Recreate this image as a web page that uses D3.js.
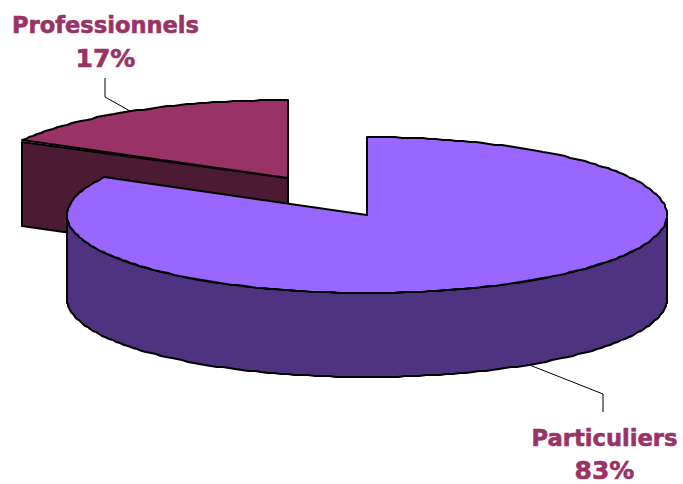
<!DOCTYPE html>
<html><head><meta charset="utf-8">
<script src="https://cdnjs.cloudflare.com/ajax/libs/d3/7.8.5/d3.min.js"></script>
<style>html,body{margin:0;padding:0;background:#fff}svg{display:block}</style>
</head><body><svg id="c" width="683" height="484"></svg>
<script>
const categories = ["Particuliers", "Professionnels"];
const shares = [83, 17];
const shareLabels = ["83%", "17%"];
const topColors = ["#9966FF", "#993366"];
const sideColors = ["#4D3380", "#4D1A33"];

const svg = d3.select("#c");
const rx = 300, ry = 78, depth = 84;
const centers = [[367, 215], [288, 178]];
const rxs = [rx, rx + 3];

const arcs = d3.pie().sort(null).startAngle(0).endAngle(2 * Math.PI).value(d => d)(shares);

function pt(i, a, dz) {
  const [cx, cy] = centers[i];
  return [Math.round(cx + rxs[i] * Math.sin(a)),
          Math.round(cy - ry * Math.cos(a) + (dz || 0))];
}
function rim(i, a0, a1, dz) {
  const n = Math.max(2, Math.ceil(Math.abs(a1 - a0) * rxs[i] / 7));
  return d3.range(n + 1).map(k => pt(i, a0 + (a1 - a0) * k / n, dz));
}
const line = d3.line().curve(d3.curveLinear);
const strokeW = 2;

function shape(points, fill) {
  svg.append("path").attr("d", line(points) + "Z")
    .attr("fill", fill).attr("stroke", "#000")
    .attr("stroke-width", strokeW).attr("stroke-linejoin", "round");
}

// Professionnels slice (behind)
{
  const i = 1, a = arcs[i], c = centers[i];
  const e = pt(i, a.startAngle);
  shape([c, [e[0], e[1] + 2], [e[0], e[1] + depth + 2], [c[0], c[1] + depth + 2]], sideColors[i]);
  shape([c].concat(rim(i, a.startAngle, a.endAngle)), topColors[i]);
}
// Particuliers slice (front)
{
  const i = 0, a = arcs[i], c = centers[i];
  const qR = Math.PI / 2, qL = 3 * Math.PI / 2;
  shape(rim(i, qR, qL).concat(rim(i, qL, qR, depth)), sideColors[i]);
  shape([c].concat(rim(i, a.startAngle, a.endAngle)), topColors[i]);
}

// Leader lines
const leaders = [
  [[527, 364], [603, 394], [603, 412]],
  [[130, 111], [105, 97], [105, 78]]
];
leaders.forEach(l => svg.append("path").attr("d", line(l))
  .attr("fill", "none").attr("stroke", "#000").attr("stroke-width", 1));

// Labels
const labelPos = [[604.5, 446, 479], [105.5, 33, 67]];
categories.forEach((name, i) => {
  const [x, y1, y2] = labelPos[i];
  [[name, y1], [shareLabels[i], y2]].forEach(([t, y]) => {
    const isName = t.length > 4;
    const s = svg.append("text").attr("x", x).attr("y", y).attr("text-anchor", "middle")
      .attr("font-family", "'DejaVu Sans', Verdana, sans-serif").attr("font-weight", "bold")
      .attr("font-size", isName ? 23 : 25).attr("fill", "#993366")
      .attr("stroke", "#993366").attr("stroke-width", 0.6).text(t);
    if (isName) s.attr("textLength", i ? 187 : 146).attr("lengthAdjust", "spacingAndGlyphs");
  });
});
</script></body></html>
